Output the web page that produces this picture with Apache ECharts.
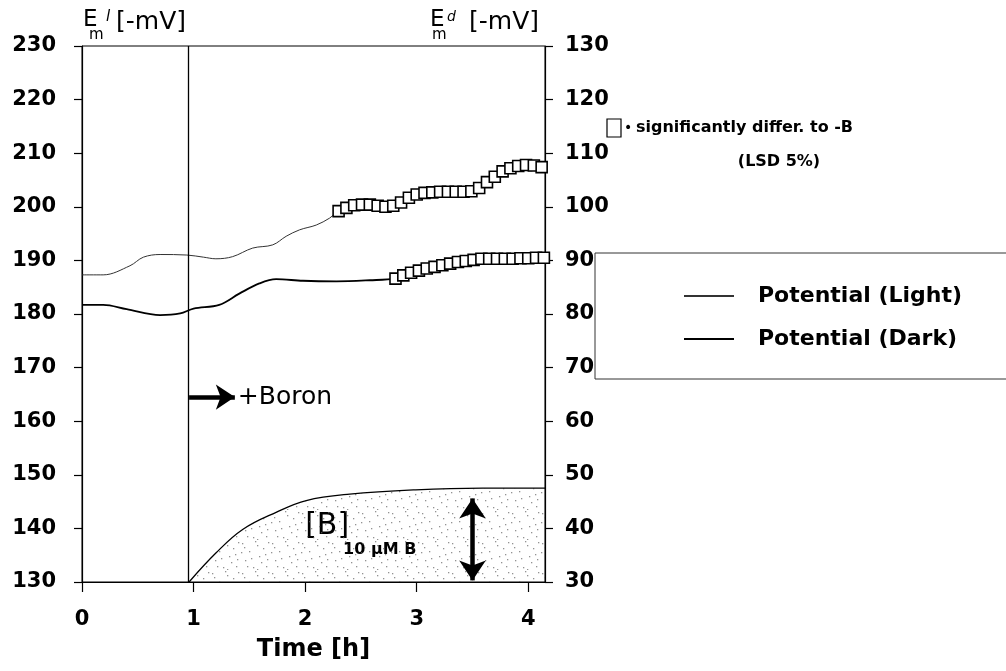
<!DOCTYPE html>
<html><head><meta charset="utf-8">
<script src="https://cdn.jsdelivr.net/npm/echarts@6/dist/echarts.min.js"></script>
<style>html,body{margin:0;padding:0;background:#fff}#c{width:1006px;height:671px}</style>
</head><body><div id="c"></div>
<script>
// ---- data ----
const timeTicks = [0, 1, 2, 3, 4];
const leftTicks = [130, 140, 150, 160, 170, 180, 190, 200, 210, 220, 230];
const rightTicks = [30, 40, 50, 60, 70, 80, 90, 100, 110, 120, 130];

// Potential (Light), left axis, before significance markers
const lightT = [0, 0.19, 0.43, 0.55, 0.70, 0.94, 1.09, 1.20, 1.35, 1.53, 1.71, 1.83, 1.95, 2.10, 2.22];
const lightV = [187.3, 187.3, 189.0, 190.6, 191.1, 191.0, 190.6, 190.3, 190.7, 192.3, 192.9, 194.5, 195.7, 196.6, 197.9];
// Light: significantly different points
const sigLightT = [2.30, 2.37, 2.44, 2.51, 2.58, 2.65, 2.72, 2.79, 2.86, 2.93, 3.00, 3.07, 3.14, 3.21, 3.28, 3.35, 3.42, 3.49, 3.56, 3.63, 3.70, 3.77, 3.84, 3.91, 3.98, 4.05, 4.12];
const sigLightV = [199.2, 199.8, 200.3, 200.4, 200.4, 200.2, 200.0, 200.2, 200.8, 201.7, 202.3, 202.6, 202.7, 202.8, 202.8, 202.8, 202.8, 202.9, 203.5, 204.6, 205.6, 206.6, 207.2, 207.6, 207.8, 207.7, 207.4];

// Potential (Dark), right axis
const darkT = [0, 0.19, 0.40, 0.70, 0.88, 1.00, 1.23, 1.41, 1.59, 1.74, 1.98, 2.28, 2.58];
const darkV = [81.7, 81.7, 80.9, 79.8, 80.1, 81.0, 81.7, 83.8, 85.7, 86.5, 86.2, 86.1, 86.3];
const sigDarkT = [2.81, 2.88, 2.95, 3.02, 3.09, 3.16, 3.23, 3.30, 3.37, 3.44, 3.51, 3.58, 3.65, 3.72, 3.79, 3.86, 3.93, 4.00, 4.07, 4.14];
const sigDarkV = [86.6, 87.2, 87.7, 88.1, 88.5, 88.8, 89.1, 89.4, 89.7, 89.9, 90.1, 90.3, 90.3, 90.3, 90.3, 90.3, 90.4, 90.4, 90.5, 90.5];

// Boron concentration curve (drawn on left axis scale)
const boronT = [0.96, 1.20, 1.44, 1.74, 2.01, 2.40, 2.99, 3.59, 4.15];
const boronV = [130.0, 135.4, 139.8, 143.0, 145.2, 146.4, 147.2, 147.5, 147.5];

const boronAddT = 0.95;        // vertical line: boron addition
const arrowBoron = [[0.96, 164.5], [1.37, 164.5]];
const doubleArrow = [[3.5, 130.3], [3.5, 145.6]];

// ---- build ----
const zip = (a, b) => a.map((x, i) => [x, b[i]]);
const lightData = zip(lightT, lightV).concat(zip(sigLightT, sigLightV));
const darkData = zip(darkT, darkV).concat(zip(sigDarkT, sigDarkV));

// stipple pattern
const pc = document.createElement('canvas');
pc.width = 30; pc.height = 30;
const pctx = pc.getContext('2d');
pctx.fillStyle = '#666';
const dots = [[2,3],[9,11],[17,5],[25,14],[28,2],[5,20],[13,27],[21,22],[26,26],[11,18],[7,26],[19,16],[23,8],[15,1],[1,12],[17,29],[4,7],[27,19]];
dots.forEach(d => pctx.fillRect(d[0], d[1], 1.3, 1.3));

const FONT = 'DejaVu Sans';
const chart = echarts.init(document.getElementById('c'), null, {renderer: 'canvas'});
const opt = {
  backgroundColor: '#fff',
  animation: false,
  textStyle: {fontFamily: FONT, color: '#000'},
  grid: {left: 82, top: 46, width: 463, height: 536, show: true, borderColor: '#000', borderWidth: 1, backgroundColor: 'transparent'},
  legend: {
    orient: 'vertical', left: 595, top: 253,
    padding: [30, 120, 27, 88],
    itemGap: 17, itemWidth: 50, itemHeight: 14,
    borderColor: '#333', borderWidth: 1,
    itemStyle: {color: 'rgba(0,0,0,0)', borderWidth: 0, opacity: 0},
    textStyle: {fontFamily: FONT, fontSize: 22, fontWeight: 'bold', color: '#000', padding: [0, 0, 0, 19], lineHeight: 26},
    data: ['Potential (Light)', 'Potential (Dark)']
  },
  xAxis: {
    type: 'value', min: 0, max: 4.15, interval: 1,
    axisLine: {lineStyle: {color: '#000', width: 1.2}},
    axisTick: {customValues: timeTicks, length: 10, inside: false, lineStyle: {color: '#000', width: 1.2}},
    axisLabel: {customValues: timeTicks, fontSize: 21, fontWeight: 'bold', fontFamily: FONT, color: '#000', margin: 27},
    splitLine: {show: false},
    name: 'Time [h]', nameLocation: 'middle', nameGap: 56,
    nameTextStyle: {fontSize: 24, fontWeight: 'bold', fontFamily: FONT, color: '#000'}
  },
  yAxis: [
    {type: 'value', min: 130, max: 230, interval: 10, position: 'left',
     axisLine: {show: true, lineStyle: {color: '#000', width: 1.2}},
     axisTick: {show: true, length: 8, lineStyle: {color: '#000', width: 1.2}},
     axisLabel: {fontSize: 21, fontWeight: 'bold', fontFamily: FONT, color: '#000', margin: 26,
       formatter: v => leftTicks.indexOf(v) >= 0 ? String(v) : ''},
     splitLine: {show: false}},
    {type: 'value', min: 30, max: 130, interval: 10, position: 'right',
     axisLine: {show: true, lineStyle: {color: '#000', width: 1.2}},
     axisTick: {show: true, length: 8, lineStyle: {color: '#000', width: 1.2}},
     axisLabel: {fontSize: 21, fontWeight: 'bold', fontFamily: FONT, color: '#000', margin: 20,
       formatter: v => rightTicks.indexOf(v) >= 0 ? String(v) : ''},
     splitLine: {show: false}}
  ],
  series: [
    {name: 'Boron', type: 'line', yAxisIndex: 0, data: zip(boronT, boronV), smooth: 0.4,
     symbol: 'none', lineStyle: {color: '#000', width: 1.3}, itemStyle: {color: '#000'},
     areaStyle: {color: {image: pc, repeat: 'repeat'}, origin: 'start'},
     z: 2,
     markLine: {silent: true, animation: false,
       data: [
         [{coord: arrowBoron[0], symbol: 'none'}, {coord: arrowBoron[1], symbol: 'arrow', symbolSize: 19}],
         [{coord: doubleArrow[0], symbol: 'arrow', symbolSize: 20}, {coord: doubleArrow[1], symbol: 'arrow', symbolSize: 20}]
       ],
       symbol: ['arrow', 'arrow'], symbolSize: 18,
       lineStyle: {color: '#000', width: 4.5, type: 'solid'},
       label: {show: false}
     }},
    {name: 'Potential (Light)', type: 'line', yAxisIndex: 0, data: lightData, smooth: 0.35,
     symbol: 'none', lineStyle: {color: '#333', width: 1}, itemStyle: {color: '#333'}, z: 3,
     markLine: {silent: true, symbol: 'none', animation: false,
       data: [{xAxis: boronAddT}], lineStyle: {color: '#000', width: 1.3, type: 'solid'}, label: {show: false}}},
    {name: 'Potential (Dark)', type: 'line', yAxisIndex: 1, data: darkData, smooth: 0.35,
     symbol: 'none', lineStyle: {color: '#000', width: 1.8}, itemStyle: {color: '#000'}, z: 3},
    {name: 'sigLight', type: 'scatter', yAxisIndex: 0, data: zip(sigLightT, sigLightV),
     symbol: 'rect', symbolSize: 11, itemStyle: {color: '#fff', borderColor: '#000', borderWidth: 1.6, opacity: 1}, z: 4},
    {name: 'sigDark', type: 'scatter', yAxisIndex: 1, data: zip(sigDarkT, sigDarkV),
     symbol: 'rect', symbolSize: 11, itemStyle: {color: '#fff', borderColor: '#000', borderWidth: 1.6, opacity: 1}, z: 4}
  ]
};
chart.setOption(opt);

// annotations positioned via the chart's scales
const p = (t, v) => chart.convertToPixel({xAxisIndex: 0, yAxisIndex: 0}, [t, v]);
const bLbl = p(arrowBoron[1][0], arrowBoron[1][1]);
const bb = p(2.0, 140.5);
const bs = p(2.34, 136.0);
const t = (x, y, text, size, extra, weight, align) => Object.assign({type: 'text', x: x, y: y,
  style: {text: text, font: (weight || 'normal') + ' ' + size + 'px "' + FONT + '"', fill: '#000', textVerticalAlign: 'middle', textAlign: align || 'left'}}, extra || {});
chart.setOption({graphic: [
  t(bLbl[0] + 3, bLbl[1], '+Boron', 25),
  t(bb[0], bb[1], '[B]', 30),
  t(bs[0], bs[1], '10 µM B', 16, null, 'bold'),
  // axis titles
  t(83, 20, 'E', 23),
  t(89, 35, 'm', 15),
  {type: 'text', x: 106, y: 17, style: {text: 'l', font: 'italic 15px "' + FONT + '"', fill: '#000', textVerticalAlign: 'middle'}},
  t(116, 22, '[-mV]', 25),
  t(430, 20, 'E', 23),
  t(432, 35, 'm', 15),
  {type: 'text', x: 447, y: 17, style: {text: 'd', font: 'italic 14px "' + FONT + '"', fill: '#000', textVerticalAlign: 'middle'}},
  t(469, 22, '[-mV]', 25),
  // significance key
  {type: 'rect', shape: {x: 607, y: 119, width: 14, height: 18}, style: {fill: '#fff', stroke: '#000', lineWidth: 1.2}},
  t(624, 128, '•', 14),
  t(636, 128, 'significantly differ. to -B', 16, null, 'bold'),
  t(779, 162, '(LSD 5%)', 16, null, 'bold', 'center')
]});
</script>
</body></html>
